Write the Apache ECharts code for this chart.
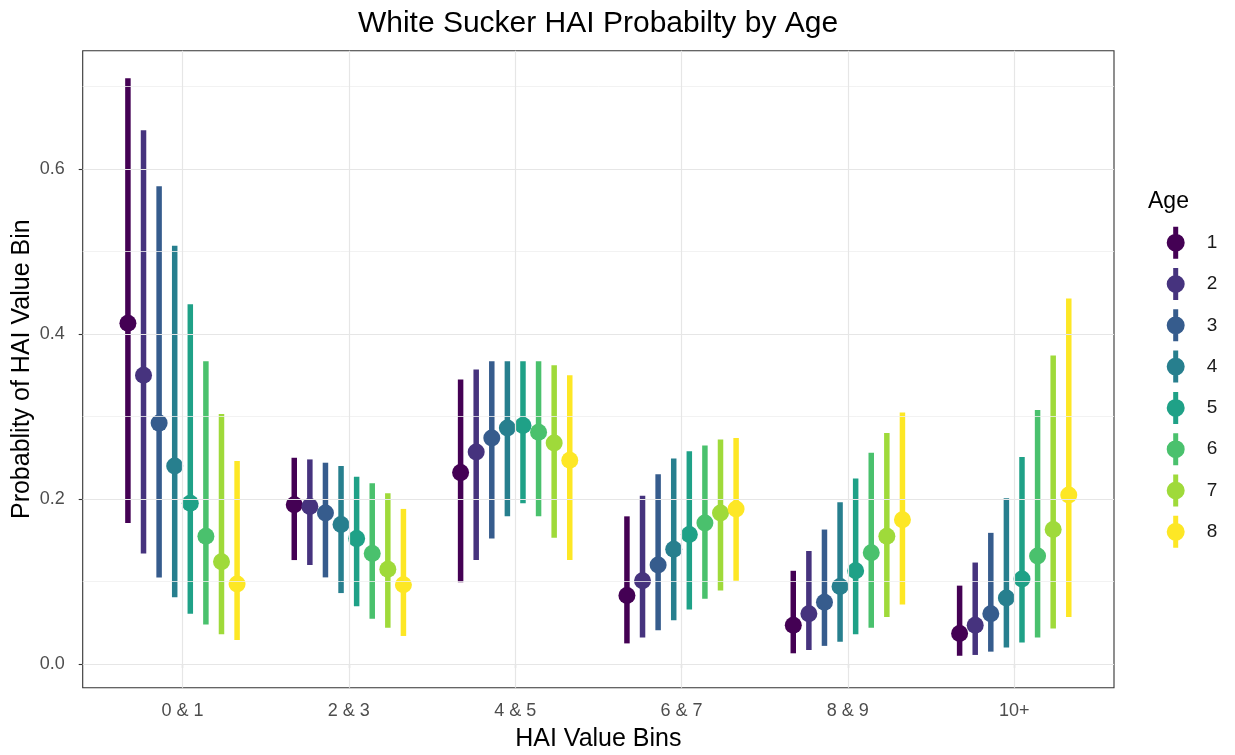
<!DOCTYPE html>
<html>
<head>
<meta charset="utf-8">
<title>White Sucker HAI Probabilty by Age</title>
<script src="https://cdn.jsdelivr.net/npm/echarts@6/dist/echarts.min.js"></script>
<style>
  html, body { margin: 0; padding: 0; background: #ffffff; }
  #chart { width: 1235px; height: 755px; }
</style>
</head>
<body>
<div id="chart"></div>
<script>
// HAI value bins (x categories) and fish ages (series)
const categories = ['0 & 1', '2 & 3', '4 & 5', '6 & 7', '8 & 9', '10+'];
const ages = ['1', '2', '3', '4', '5', '6', '7', '8'];
const ageColors = ['#440154', '#46337E', '#365C8D', '#277F8E', '#1FA187', '#4AC16D', '#9FDA3A', '#FDE725'];

// Estimated probability of each bin, one row per age
const estimate = [
  [0.413, 0.193, 0.232, 0.083, 0.047, 0.037],
  [0.350, 0.191, 0.257, 0.101, 0.061, 0.047],
  [0.292, 0.183, 0.274, 0.120, 0.075, 0.061],
  [0.240, 0.169, 0.286, 0.139, 0.094, 0.080],
  [0.195, 0.152, 0.289, 0.157, 0.113, 0.103],
  [0.155, 0.134, 0.281, 0.171, 0.135, 0.131],
  [0.124, 0.115, 0.268, 0.183, 0.155, 0.163],
  [0.097, 0.096, 0.247, 0.188, 0.175, 0.205]
];
// Lower interval bound, one row per age
const lower = [
  [0.171, 0.126, 0.099, 0.025, 0.013, 0.010],
  [0.134, 0.120, 0.126, 0.032, 0.017, 0.011],
  [0.105, 0.105, 0.152, 0.041, 0.022, 0.015],
  [0.081, 0.086, 0.179, 0.053, 0.027, 0.020],
  [0.061, 0.070, 0.195, 0.066, 0.036, 0.026],
  [0.048, 0.055, 0.179, 0.079, 0.044, 0.032],
  [0.036, 0.044, 0.153, 0.089, 0.057, 0.043],
  [0.029, 0.034, 0.126, 0.101, 0.072, 0.057]
];
// Upper interval bound, one row per age
const upper = [
  [0.710, 0.250, 0.345, 0.179, 0.113, 0.095],
  [0.647, 0.248, 0.357, 0.204, 0.137, 0.123],
  [0.579, 0.244, 0.367, 0.230, 0.163, 0.159],
  [0.507, 0.240, 0.367, 0.249, 0.196, 0.201],
  [0.436, 0.227, 0.367, 0.258, 0.225, 0.251],
  [0.367, 0.219, 0.367, 0.265, 0.256, 0.308],
  [0.303, 0.207, 0.362, 0.272, 0.280, 0.374],
  [0.246, 0.188, 0.350, 0.274, 0.305, 0.443]
];

const yMajorTicks = [0, 0.2, 0.4, 0.6];
const yMinorTicks = [0.1, 0.3, 0.5, 0.7];

const FONT = 'Liberation Sans, Arial, sans-serif';
const DODGE = 0.75;            // total dodge width within a bin
const categoryPos = categories.map((c, j) => j + 1);

function dodgeOffset(i) {
  return (i - (ages.length - 1) / 2) * DODGE / ages.length;
}

const pointSeries = ages.map((age, i) => ({
  name: age,
  type: 'scatter',
  z: 4,
  symbol: 'circle',
  symbolSize: 17,
  itemStyle: { color: ageColors[i], opacity: 1 },
  emphasis: { disabled: true },
  data: categoryPos.map((p, j) => [p + dodgeOffset(i), estimate[i][j]])
}));

const rangeSeries = ages.map((age, i) => ({
  name: age,
  type: 'custom',
  z: 3,
  itemStyle: { color: ageColors[i] },
  encode: { x: 0, y: [1, 2] },
  data: categoryPos.map((p, j) => [p + dodgeOffset(i), lower[i][j], upper[i][j]]),
  renderItem: function (params, api) {
    const lo = api.coord([api.value(0), api.value(1)]);
    const hi = api.coord([api.value(0), api.value(2)]);
    return {
      type: 'line',
      shape: { x1: lo[0], y1: lo[1], x2: hi[0], y2: hi[1] },
      style: { stroke: ageColors[i], lineWidth: 5.5, lineCap: 'butt' }
    };
  }
}));

// Panel grid lines, drawn in data coordinates
const gridLineSeries = {
  type: 'line',
  z: 1,
  silent: true,
  data: [],
  markLine: {
    silent: true,
    symbol: 'none',
    animation: false,
    label: { show: false },
    emphasis: { disabled: true },
    data: [
      ...yMinorTicks.map(v => ({ yAxis: v, lineStyle: { color: '#EFEFEF', width: 0.8, type: 'solid' } })),
      ...yMajorTicks.map(v => ({ yAxis: v, lineStyle: { color: '#E6E6E6', width: 1.2, type: 'solid' } })),
      ...categoryPos.map(v => ({ xAxis: v, lineStyle: { color: '#E6E6E6', width: 1.2, type: 'solid' } }))
    ]
  }
};

// Legend key: a vertical range line with a dot on it
const keyIcon = 'path://M6.5,0H11.5V32H6.5Z M0,16A9,9 0 1,1 18,16A9,9 0 1,1 0,16Z';

const chart = echarts.init(document.getElementById('chart'), null, { renderer: 'canvas' });

chart.setOption({
  animation: false,
  backgroundColor: '#ffffff',
  textStyle: { fontFamily: FONT },
  title: [
    {
      text: 'White Sucker HAI Probabilty by Age',
      left: 598,
      top: 9,
      padding: 0,
      textAlign: 'center',
      textStyle: { fontFamily: FONT, fontSize: 30, fontWeight: 'normal', color: '#000000' }
    },
    {
      text: 'Age',
      left: 1143,
      top: 185,
      textStyle: { fontFamily: FONT, fontSize: 23, fontWeight: 'normal', color: '#000000' }
    }
  ],
  legend: {
    orient: 'vertical',
    left: 1161.7,
    top: 221.7,
    itemWidth: 18,
    itemHeight: 32,
    itemGap: 9.3,
    selectedMode: true,
    data: ages.map(a => ({ name: a, icon: keyIcon })),
    textStyle: { fontFamily: FONT, fontSize: 19, color: '#1A1A1A', padding: [0, 0, 0, 17] }
  },
  grid: {
    left: 82.7,
    right: 121,
    top: 50.7,
    bottom: 67.3,
    outerBoundsMode: 'none',
    containLabel: false,
    show: true,
    borderColor: '#333333',
    borderWidth: 1.1,
    backgroundColor: 'transparent'
  },
  xAxis: {
    type: 'value',
    min: 0.4,
    max: 6.6,
    name: 'HAI Value Bins',
    nameLocation: 'middle',
    nameGap: 39,
    nameMoveOverlap: false,
    nameTextStyle: { fontFamily: FONT, fontSize: 25, color: '#000000' },
    axisLine: { show: false },
    axisTick: { show: true, length: 4, customValues: categoryPos, lineStyle: { color: '#333333', width: 1.1 } },
    axisLabel: {
      customValues: categoryPos,
      margin: 14,
      fontFamily: FONT,
      fontSize: 18,
      color: '#4D4D4D',
      formatter: v => categories[Math.round(v) - 1]
    },
    splitLine: { show: false }
  },
  yAxis: {
    type: 'value',
    min: -0.0287,
    max: 0.7434,
    name: 'Probablity of HAI Value Bin',
    nameLocation: 'middle',
    nameGap: 48,
    nameMoveOverlap: false,
    nameTextStyle: { fontFamily: FONT, fontSize: 25, color: '#000000' },
    axisLine: { show: false },
    axisTick: { show: true, length: 4, customValues: yMajorTicks, lineStyle: { color: '#333333', width: 1.1 } },
    axisLabel: {
      customValues: yMajorTicks,
      margin: 18,
      fontFamily: FONT,
      fontSize: 18,
      color: '#4D4D4D',
      formatter: v => v.toFixed(1)
    },
    splitLine: { show: false }
  },
  series: [gridLineSeries, ...pointSeries, ...rangeSeries]
});
</script>
</body>
</html>
